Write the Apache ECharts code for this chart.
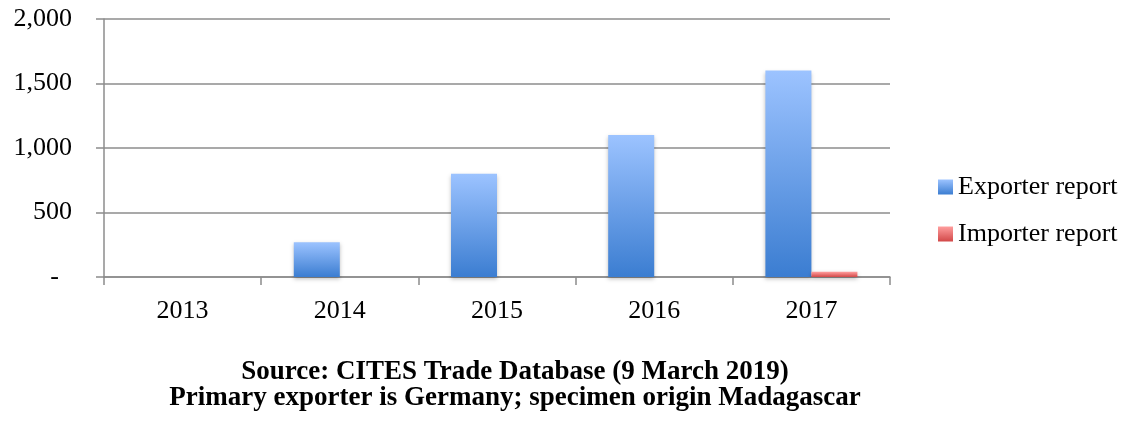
<!DOCTYPE html>
<html>
<head>
<meta charset="utf-8">
<script src="https://cdn.jsdelivr.net/npm/echarts@6/dist/echarts.min.js"></script>
<style>
  html, body { margin: 0; padding: 0; background: #fff; }
  #chart { width: 1141px; height: 421px; }
</style>
</head>
<body>
<div id="chart"></div>
<script>
var years = ['2013', '2014', '2015', '2016', '2017'];
var exporterReport = [0, 270, 800, 1100, 1600];
var importerReport = [0, 0, 0, 0, 40];
var seriesNames = ['Exporter report', 'Importer report'];
var captionLines = ['Source: CITES Trade Database (9 March 2019)',
                    'Primary exporter is Germany; specimen origin Madagascar'];

var chart = echarts.init(document.getElementById('chart'));
var font = '"Liberation Serif", "DejaVu Serif", serif';

function grad(top, bottom) {
  return new echarts.graphic.LinearGradient(0, 0, 0, 1, [
    { offset: 0, color: top },
    { offset: 1, color: bottom }
  ]);
}

var option = {
  animation: false,
  textStyle: { fontFamily: font },
  grid: { left: 104, right: 251, top: 19, bottom: 144 },
  legend: {
    orient: 'vertical',
    left: 933,
    top: 169,
    itemWidth: 15,
    itemHeight: 15,
    itemGap: 21,
    icon: 'rect',
    textStyle: { fontFamily: font, fontSize: 26, color: '#000' },
    data: seriesNames
  },
  xAxis: {
    type: 'category',
    data: years,
    axisLine: { lineStyle: { color: '#8c8c8c', width: 1.5 } },
    axisTick: { show: true, length: 8, lineStyle: { color: '#8c8c8c', width: 1.5 } },
    axisLabel: { color: '#000', fontSize: 26, margin: 21, fontFamily: font }
  },
  yAxis: {
    type: 'value',
    min: 0,
    max: 2000,
    interval: 500,
    axisLine: { show: true, lineStyle: { color: '#8c8c8c', width: 1.5 } },
    axisTick: { show: true, length: 8, lineStyle: { color: '#8c8c8c', width: 1.5 } },
    splitLine: { lineStyle: { color: '#8c8c8c', width: 1.5 } },
    axisLabel: {
      color: '#000', fontSize: 26, margin: 32, fontFamily: font,
      formatter: function (v) {
        return v === 0 ? '-  ' : v.toLocaleString('en-US');
      }
    }
  },
  series: [
    {
      name: seriesNames[0],
      type: 'bar',
      data: exporterReport,
      barWidth: 46,
      barGap: '0%',
      itemStyle: {
        color: grad('#9cc3ff', '#3b7dd1'),
        shadowColor: 'rgba(0,0,0,0.25)', shadowBlur: 4, shadowOffsetY: 2
      }
    },
    {
      name: seriesNames[1],
      type: 'bar',
      data: importerReport,
      barWidth: 46,
      barGap: '0%',
      itemStyle: {
        color: grad('#ff9e9e', '#d24848'),
        shadowColor: 'rgba(0,0,0,0.25)', shadowBlur: 4, shadowOffsetY: 2
      }
    }
  ],
  graphic: [
    {
      type: 'text',
      x: 515,
      y: 359,
      style: {
        text: captionLines.join('\n'),
        align: 'center',
        verticalAlign: 'top',
        fontFamily: font,
        fontWeight: 'bold',
        fontSize: 27,
        lineHeight: 26,
        fill: '#000'
      }
    }
  ]
};

chart.setOption(option);
</script>
</body>
</html>
